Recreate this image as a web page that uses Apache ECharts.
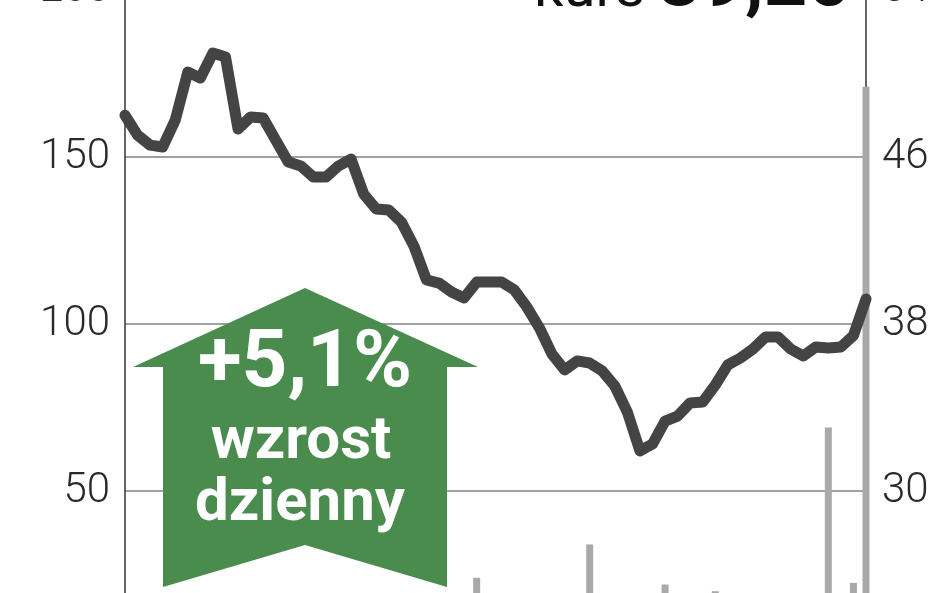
<!DOCTYPE html>
<html>
<head>
<meta charset="utf-8">
<script src="https://cdn.jsdelivr.net/npm/echarts@6/dist/echarts.min.js"></script>
<style>
html,body{margin:0;padding:0;background:#fff;}
#chart{width:948px;height:593px;}
</style>
</head>
<body>
<div id="chart"></div>
<script>
// Daily closing price (PLN), right axis
const prices = [48.0,47.05,46.57,46.48,47.77,50.07,49.78,50.98,50.79,47.34,
  47.92,47.87,46.81,45.76,45.57,45.04,45.04,45.57,45.90,44.23,
  43.51,43.46,42.89,41.74,40.11,39.96,39.53,39.25,40.01,40.01,
  40.01,39.63,38.81,37.81,36.56,35.80,36.23,36.13,35.75,35.03,
  33.78,31.92,32.25,33.35,33.59,34.22,34.26,35.08,36.04,36.37,
  36.80,37.38,37.38,36.80,36.47,36.90,36.85,36.90,37.45,39.20];
// Daily volume, left axis (only the visible bars)
const volumes = [null,null,null,null,null,null,null,null,null,null,
  null,null,null,null,null,null,null,null,null,null,
  null,null,null,null,null,null,null,null,24,null,
  null,null,null,null,null,null,null,34,null,null,
  null,null,null,22,null,null,null,20,null,null,
  null,null,null,null,null,null,69,null,22.5,171];
const days = prices.map((_, i) => 'd' + (i + 1));
const leftTicks = [0, 50, 100, 150, 200];
const rightTicks = [22, 30, 38, 46, 54];
const titleLabel = 'kurs';
const titleValue = '39,20';
const badgeLines = ['+5,1%', 'wzrost', 'dzienny'];

const chart = echarts.init(document.getElementById('chart'), null, {renderer: 'canvas'});
const labelFont = {fontSize: 42, color: '#2a2a2a', fontFamily: 'Roboto', fontWeight: 300};
chart.setOption({
  backgroundColor: '#ffffff',
  animation: false,
  grid: {left: 125, top: -10, width: 741, height: 668, containLabel: false, outerBoundsMode: 'none'},
  xAxis: {type: 'category', data: days, boundaryGap: false, show: false},
  yAxis: [
    {type: 'value', min: leftTicks[0], max: leftTicks[leftTicks.length - 1], interval: 50,
     position: 'left',
     axisLine: {show: true, lineStyle: {color: '#333', width: 1.5}},
     axisTick: {show: false},
     axisLabel: Object.assign({margin: 15, formatter: v => leftTicks.includes(v) ? String(v) : ''}, labelFont),
     splitLine: {show: true, lineStyle: {color: '#a0a0a0', width: 2}}},
    {type: 'value', min: rightTicks[0], max: rightTicks[rightTicks.length - 1], interval: 8,
     position: 'right',
     axisLine: {show: true, lineStyle: {color: '#333', width: 1.5}},
     axisTick: {show: false},
     axisLabel: Object.assign({margin: 16, formatter: v => rightTicks.includes(v) ? String(v) : ''}, labelFont),
     splitLine: {show: false}}
  ],
  series: [
    {type: 'bar', yAxisIndex: 0, data: volumes, barWidth: 7, z: 1,
     itemStyle: {color: '#a9a9a9'}},
    {type: 'line', yAxisIndex: 1, data: prices, symbol: 'none', z: 3,
     lineStyle: {color: '#444444', width: 11, cap: 'round', join: 'round'}}
  ],
  graphic: [
    {type: 'polygon', z: 100,
     shape: {points: [[305,288],[478,367],[447,367],[447,587],[305,545],[163,587],[163,367],[133,367]]},
     style: {fill: '#4a8b4e'}},
    {type: 'text', z: 101, x: 305, y: 366,
     style: {text: badgeLines[0], fill: '#fff', font: 'bold 80px Roboto', align: 'center', verticalAlign: 'middle'}},
    {type: 'text', z: 101, x: 301, y: 443,
     style: {text: badgeLines[1], fill: '#fff', font: 'bold 60px Roboto', align: 'center', verticalAlign: 'middle'}},
    {type: 'text', z: 101, x: 300, y: 505,
     style: {text: badgeLines[2], fill: '#fff', font: 'bold 60px Roboto', align: 'center', verticalAlign: 'middle'}},
    {type: 'text', z: 101, x: 645, y: -9,
     style: {text: titleLabel, fill: '#111', font: '58px Roboto', align: 'right', verticalAlign: 'middle'}},
    {type: 'text', z: 101, x: 851, y: -14,
     style: {text: titleValue, fill: '#111', font: 'bold 76px Roboto', align: 'right', verticalAlign: 'middle'}}
  ]
});
</script>
</body>
</html>
